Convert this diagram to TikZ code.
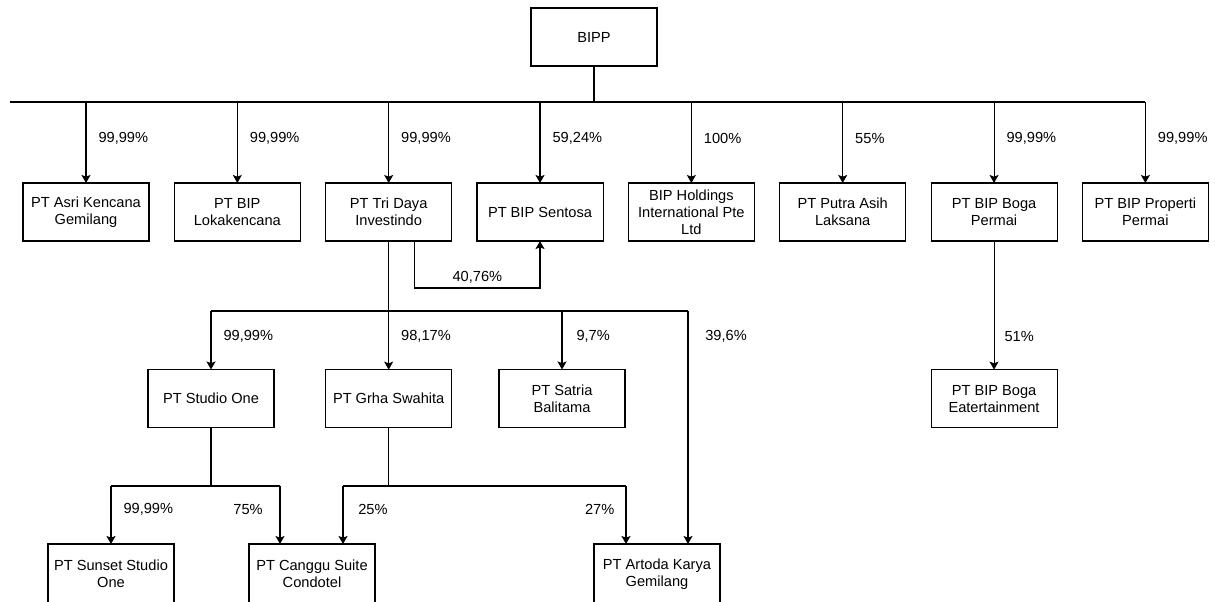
\documentclass[tikz,border=0pt]{standalone}
\usepackage{fontspec}
\setmainfont{Liberation Sans}
\usetikzlibrary{arrows.meta,positioning}

\begin{document}
\begin{tikzpicture}[
  x=0.025cm, y=-0.025cm,
  node distance=0.6325cm,
  company/.style={draw, line width=0.75pt, outer sep=0pt, minimum width=3.15cm, minimum height=1.45cm,
                  inner sep=1pt, align=center, font=\fontsize{10.4}{12}\selectfont},
  bottomrow/.style={company, minimum height=1.5cm},
  link/.style={line width=0.75pt},
  own/.style={link, -{Stealth[length=5.7pt, width=6.4pt, inset=1.2pt]}},
  pct/.style={font=\fontsize{10.4}{12}\selectfont, inner sep=0pt}
]
  \useasboundingbox (0,0) rectangle (1215,601);

  \node[company] (bipp) at (594,37) {BIPP};

  % first tier
  \node[company] (asri) at (86,212)       {PT Asri Kencana\\Gemilang};
  \node[company, right=of asri]  (loka)   {PT BIP\\Lokakencana};
  \node[company, right=of loka]  (tridaya){PT Tri Daya\\Investindo};
  \node[company, right=of tridaya] (sentosa) {PT BIP Sentosa};
  \node[company, right=of sentosa] (holdings) {BIP Holdings\\International Pte\\Ltd};
  \node[company, right=of holdings] (putra) {PT Putra Asih\\Laksana};
  \node[company, right=of putra] (bogaperm) {PT BIP Boga\\Permai};
  \node[company, right=of bogaperm] (properti) {PT BIP Properti\\Permai};

  % second tier
  \node[company] (studio)  at (211,398.5) {PT Studio One};
  \node[company, below=3.215cm of tridaya] (grha) {PT Grha Swahita};
  \node[company] (satria)  at (562,398.5) {PT Satria\\Balitama};
  \node[company, below=3.215cm of bogaperm] (bogaent) {PT BIP Boga\\Eatertainment};

  % third tier
  \node[bottomrow] (sunset) at (111,574) {PT Sunset Studio\\One};
  \node[bottomrow] (canggu) at (312,574) {PT Canggu Suite\\Condotel};
  \node[bottomrow] (artoda) at (657,574) {PT Artoda Karya\\Gemilang};

  \coordinate (bus)   at (10,102);
  \coordinate (tdbus) at (0,311);
  \coordinate (sobus) at (0,486);
  \coordinate (c75) at ([xshift=-0.8cm]canggu.north);
  \coordinate (c25) at ([xshift=0.775cm]canggu.north);
  \coordinate (a27) at ([xshift=-0.775cm]artoda.north);
  \coordinate (a39) at ([xshift=0.775cm]artoda.north);

  % BIPP holdings
  \draw[link] (bipp) -- (bipp |- bus);
  \draw[link] (bus) -- (bus -| properti);
  \foreach \n/\p in {asri/{99,99\%}, loka/{99,99\%}, tridaya/{99,99\%}, sentosa/{59,24\%},
                     holdings/{100\%}, putra/{55\%}, bogaperm/{99,99\%}, properti/{99,99\%}}
    \draw[own] (bus -| \n.north) -- node[pct, pos=0.45, anchor=west, xshift=0.3cm] {\p} (\n.north);

  % Tri Daya
  \draw[own] ([xshift=0.65cm]tridaya.south) -- ++(0,47) -| node[pct, pos=0.25, above=3pt] {40,76\%} (sentosa.south);
  \draw[own] (tridaya) -- node[pct, pos=0.74, anchor=west, xshift=0.3cm] {98,17\%} (grha);
  \draw[link] (tdbus -| studio) -- (tdbus -| a39);
  \draw[own] (tdbus -| studio) -- node[pct, pos=0.43, anchor=west, xshift=0.3cm] {99,99\%} (studio);
  \draw[own] (tdbus -| satria) -- node[pct, pos=0.43, anchor=west, xshift=0.35cm] {9,7\%} (satria);
  \draw[own] (tdbus -| a39) -- node[pct, pos=0.107, anchor=west, xshift=0.42cm] {39,6\%} (a39);

  % Boga
  \draw[own] (bogaperm) -- node[pct, pos=0.74, anchor=west, xshift=0.25cm] {51\%} (bogaent);

  % Studio One
  \draw[link] (studio) -- (studio |- sobus);
  \draw[link] (sobus -| sunset) -- (sobus -| c75);
  \draw[own] (sobus -| sunset) -- node[pct, pos=0.41, anchor=west, xshift=0.3cm] {99,99\%} (sunset);
  \draw[own] (sobus -| c75) -- node[pct, pos=0.41, anchor=east, xshift=-0.42cm] {75\%} (c75);

  % Grha Swahita
  \draw[link] (grha) -- (grha |- sobus);
  \draw[link] (sobus -| c25) -- (sobus -| a27);
  \draw[own] (sobus -| c25) -- node[pct, pos=0.41, anchor=west, xshift=0.37cm] {25\%} (c25);
  \draw[own] (sobus -| a27) -- node[pct, pos=0.41, anchor=east, xshift=-0.28cm] {27\%} (a27);
\end{tikzpicture}
\end{document}
